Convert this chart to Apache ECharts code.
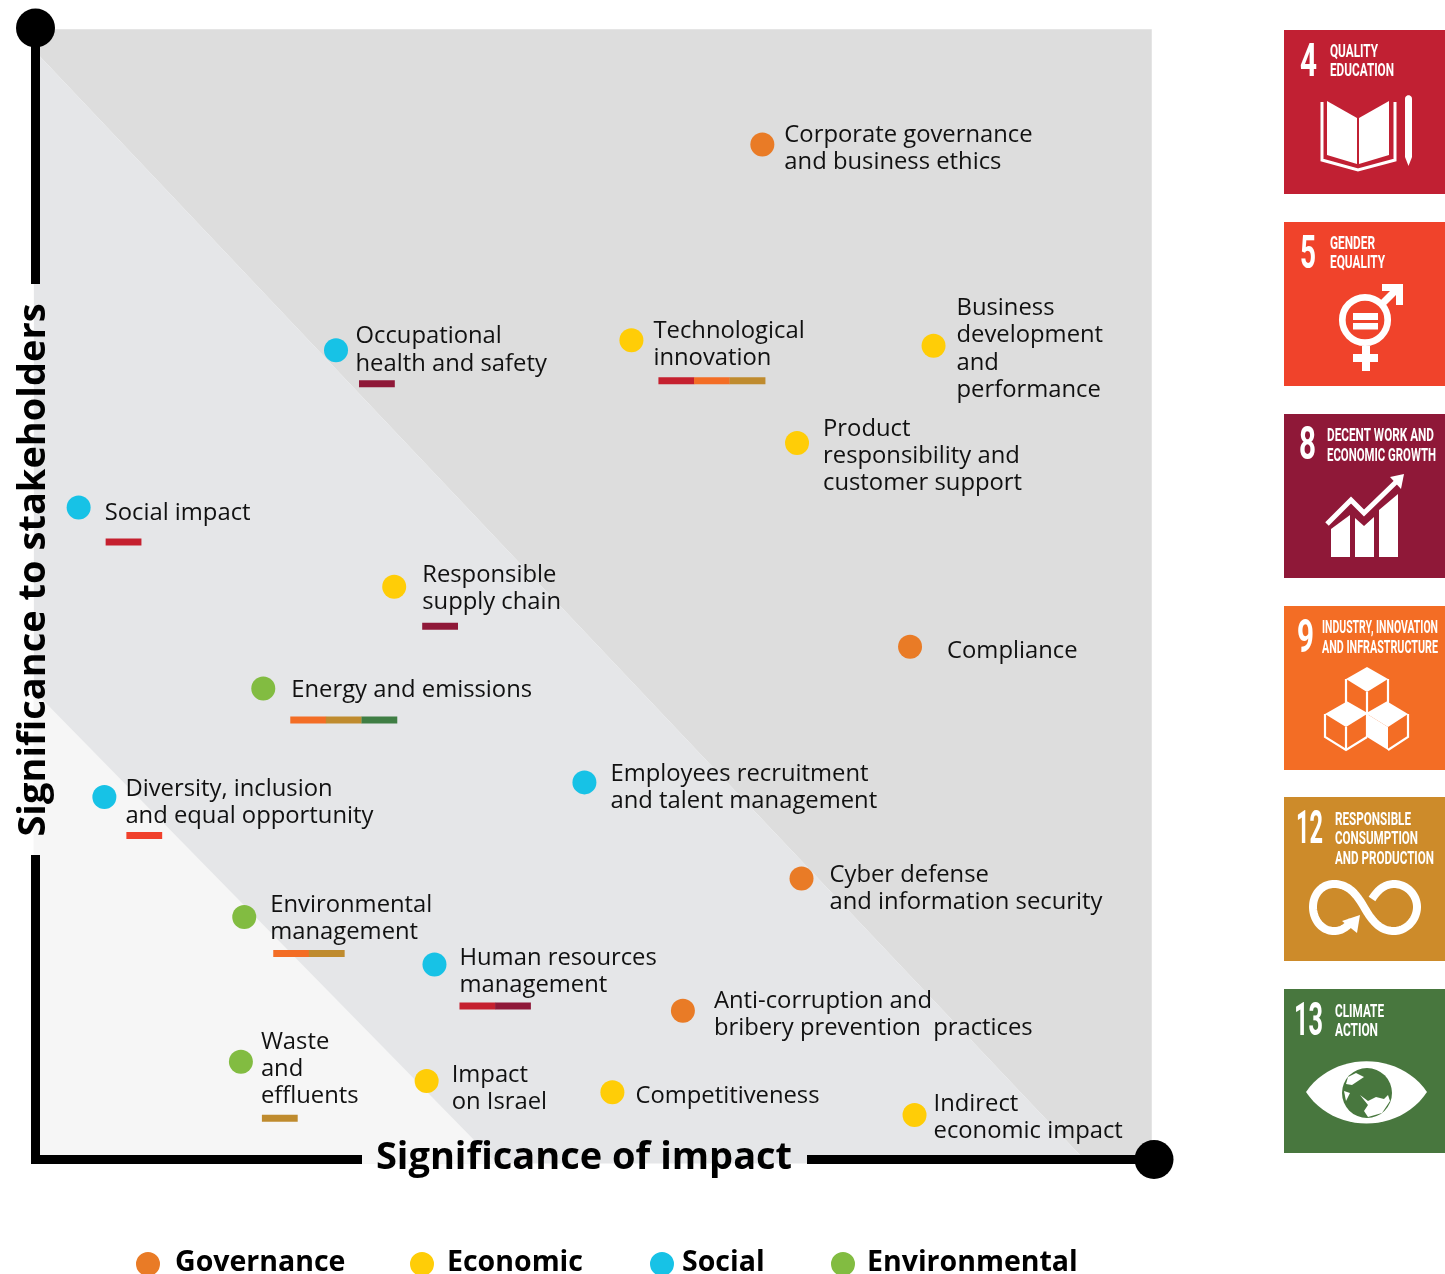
<!DOCTYPE html>
<html>
<head>
<meta charset="utf-8">
<style>html,body{margin:0;padding:0;background:#fff}#c{width:1445px;height:1274px}</style>
<script src="https://cdn.jsdelivr.net/npm/echarts@6/dist/echarts.min.js"></script>
</head>
<body>
<div id="c"></div>
<script>
// ---------- values (axis units 0..10) ----------
const categories = ['Governance', 'Economic', 'Social', 'Environmental'];
const governance = [
  ['Corporate governance\nand business ethics', 6.50, 8.97],
  ['Compliance', 7.82, 4.53],
  ['Cyber defense\nand information security', 6.85, 2.48],
  ['Anti-corruption and\nbribery prevention  practices', 5.79, 1.31]
];
const economic = [
  ['Technological\ninnovation', 5.33, 7.24],
  ['Business\ndevelopment\nand\nperformance', 8.03, 7.19],
  ['Product\nresponsibility and\ncustomer support', 6.81, 6.33],
  ['Responsible\nsupply chain', 3.21, 5.06],
  ['Impact\non Israel', 3.50, 0.69],
  ['Competitiveness', 5.16, 0.59],
  ['Indirect\neconomic impact', 7.86, 0.39]
];
const social = [
  ['Occupational\nhealth and safety', 2.69, 7.15],
  ['Social impact', 0.39, 5.76],
  ['Diversity, inclusion\nand equal opportunity', 0.62, 3.20],
  ['Employees recruitment\nand talent management', 4.91, 3.33],
  ['Human resources\nmanagement', 3.57, 1.72]
];
const environmental = [
  ['Energy and emissions', 2.04, 4.16],
  ['Environmental\nmanagement', 1.87, 2.14],
  ['Waste\nand\neffluents', 1.84, 0.86]
];
// SDG goals linked to each topic
const topicGoals = {
  'Occupational\nhealth and safety': [8],
  'Technological\ninnovation': [4, 9, 12],
  'Social impact': [4],
  'Responsible\nsupply chain': [8],
  'Energy and emissions': [9, 12, 13],
  'Diversity, inclusion\nand equal opportunity': [5],
  'Environmental\nmanagement': [9, 12],
  'Human resources\nmanagement': [4, 8],
  'Waste\nand\neffluents': [12]
};
const sdgNumbers = ['4', '5', '8', '9', '12', '13'];
const sdgTitles = [
  ['QUALITY', 'EDUCATION'],
  ['GENDER', 'EQUALITY'],
  ['DECENT WORK AND', 'ECONOMIC GROWTH'],
  ['INDUSTRY, INNOVATION', 'AND INFRASTRUCTURE'],
  ['RESPONSIBLE', 'CONSUMPTION', 'AND PRODUCTION'],
  ['CLIMATE', 'ACTION']
];
const xAxisTitle = 'Significance of impact';
const yAxisTitle = 'Significance to stakeholders';
// zone boundaries in axis units
const zoneHigh = [[-0.01, 9.99], [9.98, 9.99], [9.98, -0.04], [9.41, -0.04], [-0.01, 9.805]];
const zoneMid = [[-0.01, 9.805], [9.41, -0.04], [-0.01, -0.04]];
const zoneLow = [[-0.01, 4.14], [4.13, -0.04], [-0.01, -0.04]];

// ---------- styles and layout ----------
const categoryColors = ['#e97b26', '#ffcd07', '#17c2e6', '#82bc41'];
const zoneColors = ['#dddddd', '#e5e6e8', '#f6f6f6'];
const sdgColors = ['#c12033', '#f0432b', '#8f1838', '#f36d25', '#cd8b2a', '#48773e'];
const barColors = { 4: '#c5202f', 5: '#f0402b', 8: '#8f1838', 9: '#f36d25', 12: '#bf8b2e', 13: '#3f7e44' };
const FONT = '"Open Sans", sans-serif';
// [distance from marker edge, vertical shift of the text block]
const labelLayout = {
  'Corporate governance\nand business ethics': [10, 4],
  'Compliance': [25, 5],
  'Cyber defense\nand information security': [16, 10],
  'Anti-corruption and\nbribery prevention  practices': [19, 4],
  'Technological\ninnovation': [10, 4.5],
  'Business\ndevelopment\nand\nperformance': [11, 3.5],
  'Product\nresponsibility and\ncustomer support': [14, 13],
  'Responsible\nsupply chain': [16, 2],
  'Impact\non Israel': [13, 8],
  'Competitiveness': [11, 4],
  'Indirect\neconomic impact': [7, 3],
  'Occupational\nhealth and safety': [7.5, 0],
  'Social impact': [14, 6],
  'Diversity, inclusion\nand equal opportunity': [9, 5.5],
  'Employees recruitment\nand talent management': [14, 5],
  'Human resources\nmanagement': [13, 7],
  'Energy and emissions': [16, 2],
  'Environmental\nmanagement': [14, 2],
  'Waste\nand\neffluents': [8, 7.5]
};
// [bar left, bar top] relative to the marker centre, in px
const barLayout = {
  'Occupational\nhealth and safety': [23, 30],
  'Technological\ninnovation': [27, 37],
  'Social impact': [27, 31],
  'Responsible\nsupply chain': [28, 36],
  'Energy and emissions': [27, 28],
  'Diversity, inclusion\nand equal opportunity': [22, 35],
  'Environmental\nmanagement': [29, 33],
  'Human resources\nmanagement': [25, 38],
  'Waste\nand\neffluents': [21, 53]
};
const tileTops = [30, 222, 414, 606, 797, 989];
const TILE_X = 1284, TILE_W = 161, TILE_H = 164;
// number: [left, width, centre y]; titles: [left, width, centre y] each, relative to the page
const tileNumberBox = [[1300, 17, 64.5], [1300, 16, 256], [1299, 17, 447.5], [1297, 17, 640.5], [1296, 27, 831.5], [1294, 29, 1023.5]];
const tileTitleBox = [
  [[1330, 48, 52], [1330, 64, 71.5]],
  [[1330, 45, 244], [1330, 55, 263.5]],
  [[1327, 107, 436], [1327, 109, 456]],
  [[1322, 116, 628], [1322, 116, 648]],
  [[1335, 76, 820], [1335, 83, 839.5], [1335, 99, 859]],
  [[1335, 49, 1012], [1335, 43, 1031.5]]
];

const measureCtx = document.createElement('canvas').getContext('2d');
function fitted(text, font, left, width, cy) {
  measureCtx.font = font;
  const w = measureCtx.measureText(text).width;
  return { type: 'text', z: 20, x: left, y: cy, scaleX: width / w,
    style: { text, font, fill: '#fff', textAlign: 'left', textVerticalAlign: 'middle' } };
}
const W = { fill: '#fff' };
const strokeW = (w) => ({ fill: 'none', stroke: '#fff', lineWidth: w, lineJoin: 'miter' });
function poly(points, style) { return { type: 'polygon', shape: { points }, style: style || W }; }
function line(points, w) { return { type: 'polyline', shape: { points }, style: strokeW(w) }; }
// turns a small M/L/C outline into points, since graphic elements have no path type
function outline(d) {
  const t = d.match(/[MLCZ]|-?[\d.]+/g), pts = [];
  let i = 0, cmd = '';
  while (i < t.length) {
    if (/[MLCZ]/.test(t[i])) { cmd = t[i++]; if (cmd === 'Z') continue; }
    if (cmd === 'C') {
      const p0 = pts[pts.length - 1], a = [+t[i], +t[i + 1]], b = [+t[i + 2], +t[i + 3]], c = [+t[i + 4], +t[i + 5]];
      i += 6;
      for (let k = 1; k <= 24; k++) {
        const u = k / 24, v = 1 - u;
        pts.push([v * v * v * p0[0] + 3 * v * v * u * a[0] + 3 * v * u * u * b[0] + u * u * u * c[0],
                  v * v * v * p0[1] + 3 * v * v * u * a[1] + 3 * v * u * u * b[1] + u * u * u * c[1]]);
      }
    } else { pts.push([+t[i], +t[i + 1]]); i += 2; }
  }
  return pts;
}
const icons = [
  [ // book and pencil
    poly([[43, 71], [73, 88], [73, 134], [43, 125]]),
    poly([[75, 88], [105, 71], [105, 125], [75, 134]]),
    line([[38, 72], [38, 130], [74, 140], [111, 130], [111, 72]], 3),
    poly(outline('M121,69 C121,64 128,64 128,69 L128,127 L124.5,136 L121,127 Z'))
  ],
  [ // gender symbol
    { type: 'circle', shape: { cx: 81, cy: 98, r: 22.7 }, style: strokeW(6.7) },
    { type: 'rect', shape: { x: 69, y: 91, width: 25, height: 7 }, style: W },
    { type: 'rect', shape: { x: 69, y: 101, width: 25, height: 6.5 }, style: W },
    { type: 'rect', shape: { x: 78, y: 124, width: 8, height: 25 }, style: W },
    { type: 'rect', shape: { x: 69, y: 132, width: 25, height: 8 }, style: W },
    poly([[98, 62], [119, 62], [119, 83], [112, 83], [112, 69], [98, 69]]),
    line([[96, 84], [114, 66]], 7)
  ],
  [ // growth chart
    poly([[47, 115], [66, 101], [66, 143], [47, 143]]),
    poly([[71, 104], [80, 112], [90, 103], [90, 143], [71, 143]]),
    poly([[95, 96], [114, 80], [114, 143], [95, 143]]),
    line([[43, 110], [67, 86], [80, 99], [112, 68]], 5),
    poly([[106, 63], [120, 60], [117, 75]])
  ],
  [ // cubes
    poly([[83, 61], [104, 73], [83, 86], [62, 73]]),
    line([[62, 73], [62, 96], [83, 108], [104, 96], [104, 73]], 2.2),
    line([[83, 86], [83, 131]], 2.2),
    poly([[62, 96], [41, 108], [62, 121], [83, 108]]),
    line([[41, 108], [41, 131], [62, 144], [83, 131]], 2.2),
    line([[62, 121], [62, 144]], 2.2),
    poly([[104, 96], [124, 108], [104, 121], [83, 108]]),
    poly([[83, 108], [104, 121], [104, 144], [83, 131]]),
    line([[124, 108], [124, 131], [104, 144]], 2.2)
  ],
  [ // infinity loop
    line(outline('M68,124 C62,131 57,134 50,134 C38,134 29,123 29,110 C29,97 38,87 50,87 C66,87 74,100 80,110 C88,124 96,134 110,134 C122,134 133,123 133,110 C133,97 122,87 110,87 C100,87 93,94 88,102'), 8),
    poly([[76, 118], [73, 136], [58, 124]])
  ],
  [ // eye and globe
    poly(outline('M22,103 C50,62 115,62 143,103 C115,145 50,145 22,103 Z')),
    { type: 'circle', shape: { cx: 83, cy: 104, r: 25 }, style: { fill: '#48773e' } },
    poly([[64, 88], [72, 84], [80, 88], [74, 92], [68, 96], [62, 95]]),
    poly([[76, 106], [84, 112], [92, 108], [100, 110], [104, 106], [106, 112], [98, 124], [84, 128], [80, 122], [84, 116]]),
    poly([[60, 102], [66, 104], [62, 112]])
  ]
];

function tiles() {
  const out = [];
  sdgNumbers.forEach((num, i) => {
    out.push({ type: 'rect', z: 19, shape: { x: TILE_X, y: tileTops[i], width: TILE_W, height: TILE_H }, style: { fill: sdgColors[i] } });
    const nb = tileNumberBox[i];
    out.push(fitted(num, 'bold 47px Roboto', nb[0], nb[1], nb[2]));
    sdgTitles[i].forEach((t, j) => {
      const b = tileTitleBox[i][j];
      out.push(fitted(t, 'bold 18px Roboto', b[0], b[1], b[2]));
    });
    out.push({ type: 'group', z: 20, x: TILE_X, y: tileTops[i], children: icons[i].map(e => Object.assign({ z: 20 }, e)) });
  });
  return out;
}

// ---------- series ----------
function zoneSeries(points, color) {
  return {
    type: 'custom', coordinateSystem: 'cartesian2d', z: 1, silent: true, clip: false,
    data: [[0, 0]],
    renderItem: (p, api) => ({ type: 'polygon', shape: { points: points.map(q => api.coord(q)) }, style: { fill: color } })
  };
}
const groups = [governance, economic, social, environmental];
const scatterSeries = groups.map((rows, i) => ({
  name: categories[i], type: 'scatter', z: 5, symbol: 'circle', symbolSize: 24,
  itemStyle: { color: categoryColors[i], opacity: 1 },
  data: rows.map(r => ({
    value: [r[1], r[2]], name: r[0],
    label: { show: true, position: 'right', distance: labelLayout[r[0]][0], offset: [0, labelLayout[r[0]][1]],
      formatter: r[0], color: '#111', fontFamily: FONT, fontSize: 23.8, lineHeight: 27.3, align: 'left' }
  }))
}));
const barRows = [];
groups.flat().forEach(r => {
  (topicGoals[r[0]] || []).forEach((g, k) => barRows.push([r[1], r[2], g, k, r[0]]));
});
const barSeries = {
  type: 'custom', coordinateSystem: 'cartesian2d', z: 4, silent: true, clip: false,
  encode: { x: 0, y: 1 }, data: barRows,
  renderItem: (p, api) => {
    const row = barRows[p.dataIndex];
    const c = api.coord([row[0], row[1]]);
    const b = barLayout[row[4]];
    return { type: 'rect', shape: { x: c[0] + b[0] + row[3] * 35.6, y: c[1] + b[1], width: 35.8, height: 7 }, style: { fill: barColors[row[2]] } };
  }
};

const frame = [
  { type: 'rect', z: 18, shape: { x: 31, y: 28, width: 9, height: 256 }, style: { fill: '#000' } },
  { type: 'rect', z: 18, shape: { x: 31, y: 855, width: 9, height: 309 }, style: { fill: '#000' } },
  { type: 'rect', z: 18, shape: { x: 31, y: 1155, width: 331, height: 9 }, style: { fill: '#000' } },
  { type: 'rect', z: 18, shape: { x: 807, y: 1155, width: 347, height: 9 }, style: { fill: '#000' } },
  { type: 'circle', z: 18, shape: { cx: 35.5, cy: 28, r: 19.5 }, style: { fill: '#000' } },
  { type: 'circle', z: 18, shape: { cx: 1154, cy: 1159.5, r: 19.5 }, style: { fill: '#000' } }
];

// one legend per category, so each entry sits exactly where the reference has it
const legendLefts = [136, 410, 650, 831];
const legendTextGaps = [10, 8, 3, 7];
// a 24px disc in a 24x30 box, a little below centre: the text is centred a little above the disc
const legendIcon = 'path://M12,4 A12,12 0 1 1 12,28 A12,12 0 1 1 12,4 Z M0,0 L0.01,0 L0.01,0.01 Z M0,30 L0.01,30 L0.01,30.01 Z';

const chart = echarts.init(document.getElementById('c'), null, { renderer: 'canvas' });
chart.setOption({
  animation: false,
  backgroundColor: '#fff',
  grid: { left: 35, top: 28, width: 1119, height: 1131, show: false },
  xAxis: {
    type: 'value', min: 0, max: 10, z: 10,
    axisLine: { show: false }, axisTick: { show: false }, axisLabel: { show: false }, splitLine: { show: false },
    name: xAxisTitle, nameLocation: 'middle', nameGap: -1,
    nameTextStyle: { fontFamily: FONT, fontWeight: 'bold', fontSize: 38, color: '#000', verticalAlign: 'middle', padding: [0, 21, 0, 0] }
  },
  yAxis: {
    type: 'value', min: 0, max: 10, z: 10,
    axisLine: { show: false }, axisTick: { show: false }, axisLabel: { show: false }, splitLine: { show: false },
    name: yAxisTitle, nameLocation: 'middle', nameGap: 1, nameRotate: 90,
    nameTextStyle: { fontFamily: FONT, fontWeight: 'bold', fontSize: 38, color: '#000', verticalAlign: 'middle', padding: [0, 0, 0, 47] }
  },
  legend: categories.map((name, i) => ({
    data: [name], left: legendLefts[i], top: 1248, itemWidth: 24, itemHeight: 30, icon: legendIcon,
    selectedMode: false, padding: 0,
    textStyle: { fontFamily: FONT, fontWeight: 'bold', fontSize: 28.5, color: '#000', padding: [0, 0, 0, legendTextGaps[i]] }
  })),
  graphic: { elements: frame.concat(tiles()) },
  series: [zoneSeries(zoneHigh, zoneColors[0]), zoneSeries(zoneMid, zoneColors[1]), zoneSeries(zoneLow, zoneColors[2]), barSeries].concat(scatterSeries)
});
</script>
</body>
</html>
